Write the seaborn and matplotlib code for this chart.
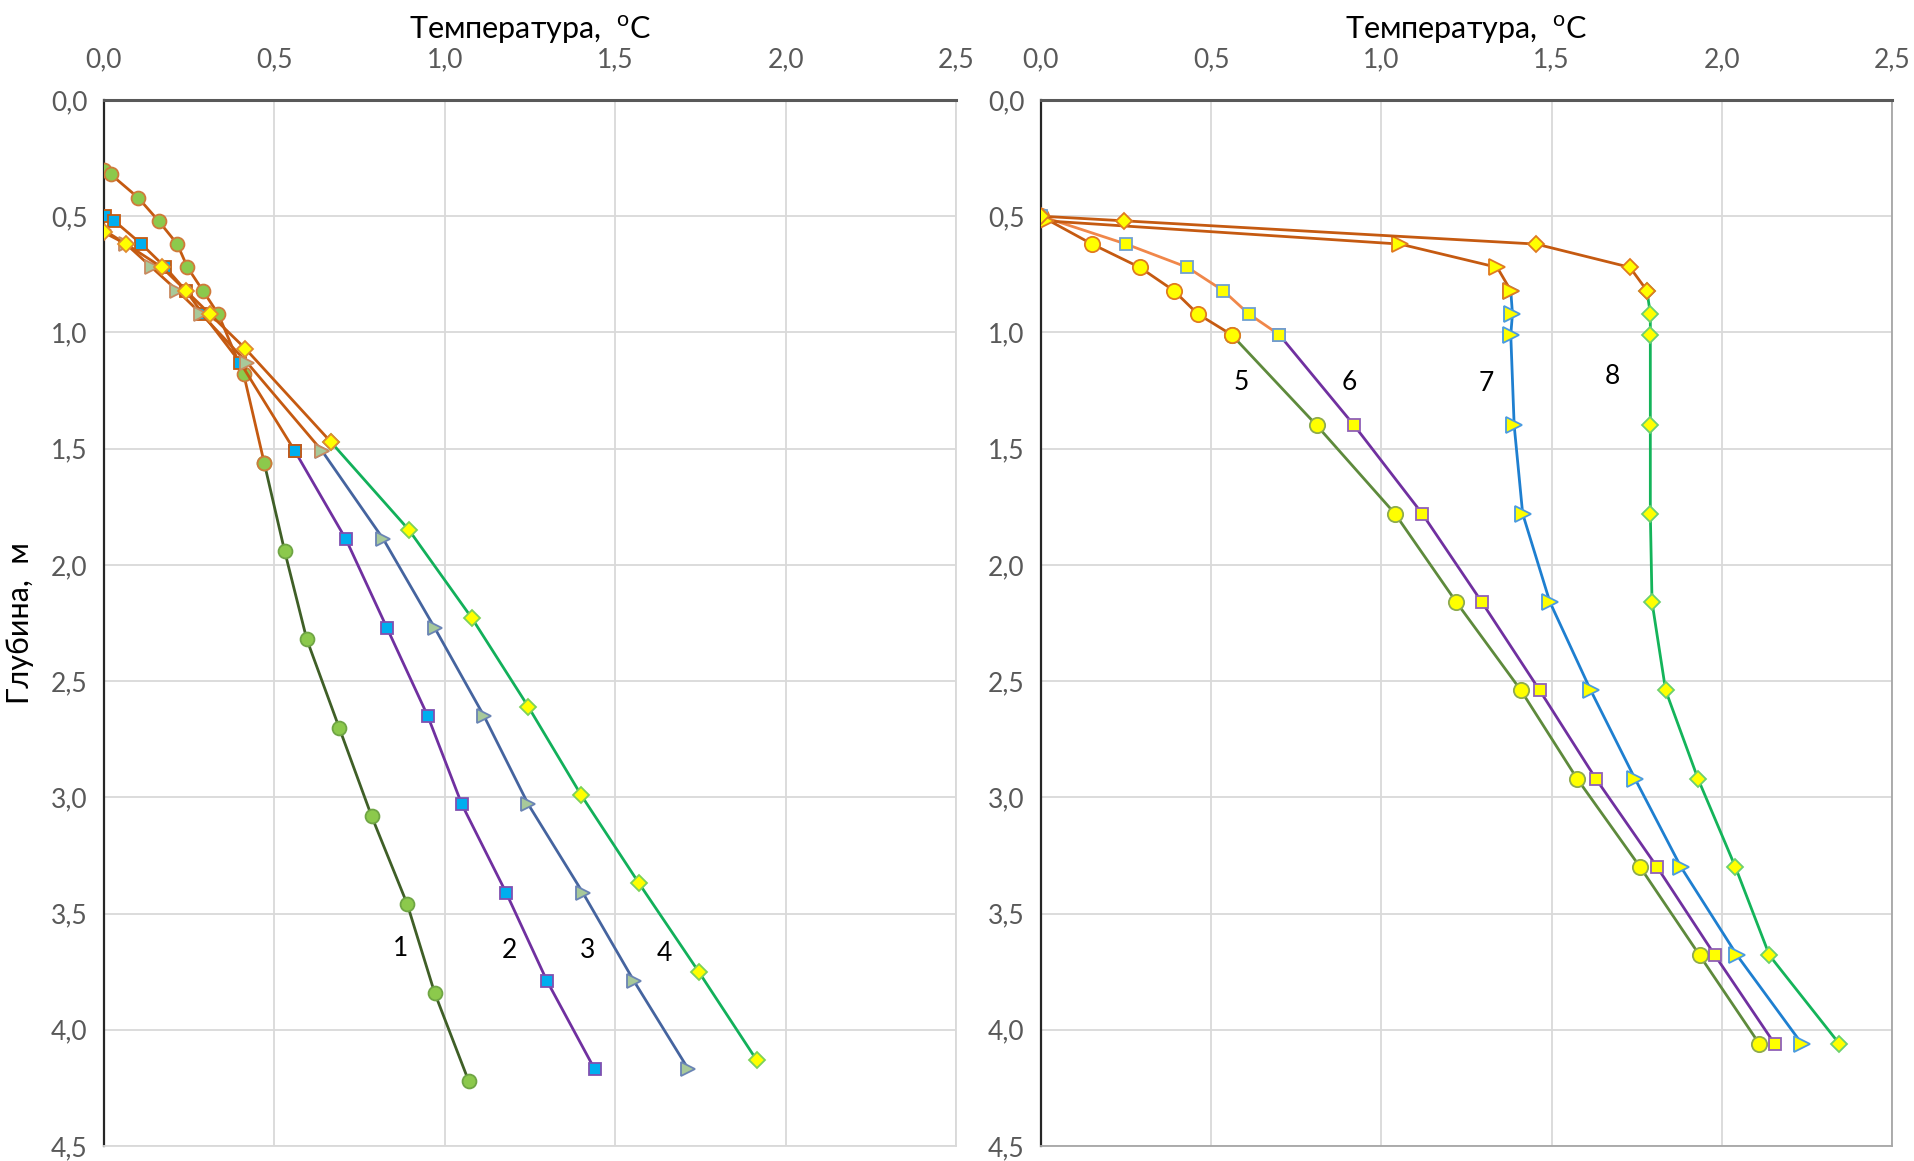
import matplotlib
matplotlib.use("Agg")
import matplotlib.pyplot as plt
import seaborn as sns
import pandas as pd
from matplotlib.ticker import FuncFormatter, MultipleLocator

# ---------------- data ----------------
# Left panel (curves 1-4): depth (m) and temperature (°C)
d1 = [0.30, 0.32, 0.42, 0.52, 0.62, 0.72, 0.82, 0.92, 1.18, 1.56, 1.94, 2.32, 2.70, 3.08, 3.46, 3.84, 4.22]
t1 = [0.00, 0.02, 0.10, 0.16, 0.215, 0.245, 0.29, 0.335, 0.41, 0.47, 0.53, 0.595, 0.69, 0.785, 0.89, 0.97, 1.07]
d2 = [0.50, 0.52, 0.62, 0.72, 0.82, 0.92, 1.13, 1.51, 1.89, 2.27, 2.65, 3.03, 3.41, 3.79, 4.17]
t2 = [0.003, 0.03, 0.11, 0.18, 0.24, 0.29, 0.40, 0.56, 0.71, 0.83, 0.95, 1.05, 1.18, 1.30, 1.44]
d3 = [0.56, 0.62, 0.72, 0.82, 0.92, 1.13, 1.51, 1.89, 2.27, 2.65, 3.03, 3.41, 3.79, 4.17]
t3 = [0.00, 0.065, 0.14, 0.215, 0.285, 0.42, 0.64, 0.82, 0.97, 1.115, 1.245, 1.405, 1.555, 1.715]
d4 = [0.57, 0.62, 0.72, 0.82, 0.92, 1.07, 1.47, 1.85, 2.23, 2.61, 2.99, 3.37, 3.75, 4.13]
t4 = [0.00, 0.065, 0.17, 0.24, 0.31, 0.415, 0.665, 0.895, 1.08, 1.245, 1.40, 1.57, 1.745, 1.915]

# Right panel (curves 5-8)
d5 = [0.50, 0.62, 0.72, 0.82, 0.92, 1.01, 1.40, 1.78, 2.16, 2.54, 2.92, 3.30, 3.68, 4.06]
t5 = [0.00, 0.15, 0.29, 0.39, 0.46, 0.56, 0.81, 1.04, 1.22, 1.41, 1.575, 1.76, 1.935, 2.11]
d6 = [0.50, 0.62, 0.72, 0.82, 0.92, 1.01, 1.40, 1.78, 2.16, 2.54, 2.92, 3.30, 3.68, 4.06]
t6 = [0.00, 0.25, 0.43, 0.535, 0.61, 0.70, 0.92, 1.12, 1.295, 1.465, 1.63, 1.81, 1.98, 2.155]
d7 = [0.52, 0.62, 0.72, 0.82, 0.92, 1.01, 1.40, 1.78, 2.16, 2.54, 2.92, 3.30, 3.68, 4.06]
t7 = [0.015, 1.055, 1.34, 1.38, 1.385, 1.38, 1.39, 1.415, 1.495, 1.615, 1.745, 1.88, 2.045, 2.235]
d8 = [0.50, 0.52, 0.62, 0.72, 0.82, 0.92, 1.01, 1.40, 1.78, 2.16, 2.54, 2.92, 3.30, 3.68, 4.06]
t8 = [0.00, 0.245, 1.455, 1.73, 1.78, 1.79, 1.79, 1.79, 1.79, 1.795, 1.835, 1.93, 2.04, 2.14, 2.345]

# index where the upper (orange) segment ends and the lower segment begins
splits = {1: 9, 2: 7, 3: 6, 4: 6, 5: 5, 6: 5, 7: 3, 8: 4}
curve_labels = ["1", "2", "3", "4", "5", "6", "7", "8"]
label_pos_t = [0.87, 1.19, 1.418, 1.644, 0.588, 0.907, 1.309, 1.678]
label_pos_d = [3.65, 3.66, 3.66, 3.67, 1.215, 1.215, 1.22, 1.19]

x_label = "Температура,  $^{\\mathregular{o}}$C"
y_label = "Глубина,  м"

# ---------------- styles ----------------
ORANGE = "#C55A11"
styles = {
    1: dict(marker="o", ms=10, lower_line="#3F5F27", lower_fc="#8CC94C", lower_ec="#6FA544",
            upper_line=ORANGE, upper_fc="#8CC94C", upper_ec="#D07A3A"),
    2: dict(marker="s", ms=8.5, lower_line="#7030A0", lower_fc="#00AEEF", lower_ec="#8050B0",
            upper_line=ORANGE, upper_fc="#00AEEF", upper_ec=ORANGE),
    3: dict(marker=">", ms=10, lower_line="#45649F", lower_fc="#A8C99A", lower_ec="#6A84B4",
            upper_line=ORANGE, upper_fc="#A8C99A", upper_ec="#C98A60"),
    4: dict(marker="D", ms=8, lower_line="#12B05A", lower_fc="#FFFF00", lower_ec="#7CD25A",
            upper_line=ORANGE, upper_fc="#FFFF00", upper_ec="#E08A30"),
    5: dict(marker="o", ms=11, lower_line="#5E8A3C", lower_fc="#FFFF00", lower_ec="#8DAA50",
            upper_line=ORANGE, upper_fc="#FFFF00", upper_ec="#E07A20"),
    6: dict(marker="s", ms=9, lower_line="#7030A0", lower_fc="#FFFF00", lower_ec="#9060B8",
            upper_line="#F0874A", upper_fc="#FFFF00", upper_ec="#6FA0D0"),
    7: dict(marker=">", ms=11, lower_line="#1E7FD0", lower_fc="#FFFF00", lower_ec="#4A9BE0",
            upper_line=ORANGE, upper_fc="#FFFF00", upper_ec="#E07A20"),
    8: dict(marker="D", ms=8.5, lower_line="#14B45A", lower_fc="#FFFF00", lower_ec="#6CD070",
            upper_line=ORANGE, upper_fc="#FFFF00", upper_ec="#E07A20"),
}

# ---------------- plotting ----------------
sns.set_theme(style="white")
plt.rcParams['font.family'] = ['Lato', 'DejaVu Sans']
plt.rcParams['mathtext.fontset'] = 'custom'
plt.rcParams['mathtext.rm'] = 'Lato'

fig = plt.figure(figsize=(19.15, 11.61), dpi=100)
axL = fig.add_axes([0.0543, 0.0129, 0.4449, 0.9010])
axR = fig.add_axes([0.5436, 0.0129, 0.4444, 0.9010])

data = {1: (t1, d1), 2: (t2, d2), 3: (t3, d3), 4: (t4, d4),
        5: (t5, d5), 6: (t6, d6), 7: (t7, d7), 8: (t8, d8)}

fmt = FuncFormatter(lambda v, _: f"{v:.1f}".replace(".", ","))

for ax, ids in ((axL, [1, 2, 3, 4]), (axR, [5, 6, 7, 8])):
    for k in ids:
        t, d = data[k]
        s = splits[k]
        st = styles[k]
        df = pd.DataFrame({"T": t, "D": d})
        lower = df.iloc[s:]
        upper = df.iloc[:s + 1]
        sns.lineplot(data=lower, x="T", y="D", sort=False, estimator=None, ax=ax,
                     color=st["lower_line"], lw=2.0, marker=st["marker"], markersize=st["ms"],
                     markerfacecolor=st["lower_fc"], markeredgecolor=st["lower_ec"],
                     markeredgewidth=1.3, zorder=3)
        sns.lineplot(data=upper, x="T", y="D", sort=False, estimator=None, ax=ax,
                     color=st["upper_line"], lw=2.0, marker=st["marker"], markersize=st["ms"],
                     markerfacecolor=st["upper_fc"], markeredgecolor=st["upper_ec"],
                     markeredgewidth=1.3, zorder=4)
        ax.text(label_pos_t[k - 1], label_pos_d[k - 1], curve_labels[k - 1],
                fontsize=19, color="black", ha="center", va="center", zorder=5)

    ax.set_xlim(0, 2.5)
    ax.set_ylim(4.5, 0)
    ax.xaxis.set_major_locator(MultipleLocator(0.5))
    ax.yaxis.set_major_locator(MultipleLocator(0.5))
    ax.xaxis.set_major_formatter(fmt)
    ax.yaxis.set_major_formatter(fmt)
    ax.xaxis.tick_top()
    ax.xaxis.set_label_position("top")
    ax.tick_params(axis="both", length=0, labelsize=19, labelcolor="#595959")
    ax.tick_params(axis="x", pad=20)
    ax.tick_params(axis="y", pad=12)
    ax.grid(True, color="#D9D9D9", lw=1.3)
    ax.set_axisbelow(True)
    ax.set_xlabel(x_label, fontsize=22, color="black", labelpad=6)
    ax.set_ylabel("")
    ax.spines["top"].set_color("#595959")
    ax.spines["top"].set_linewidth(2.2)
    ax.spines["left"].set_color("#262626")
    ax.spines["left"].set_linewidth(1.6)
    for sp in ("right", "bottom"):
        ax.spines[sp].set_color("#D9D9D9" if ax is axL else "#A6A6A6")
        ax.spines[sp].set_linewidth(1.3)

axL.set_ylabel(y_label, fontsize=22, color="black", labelpad=12)

fig.savefig("out.png", dpi=100)
